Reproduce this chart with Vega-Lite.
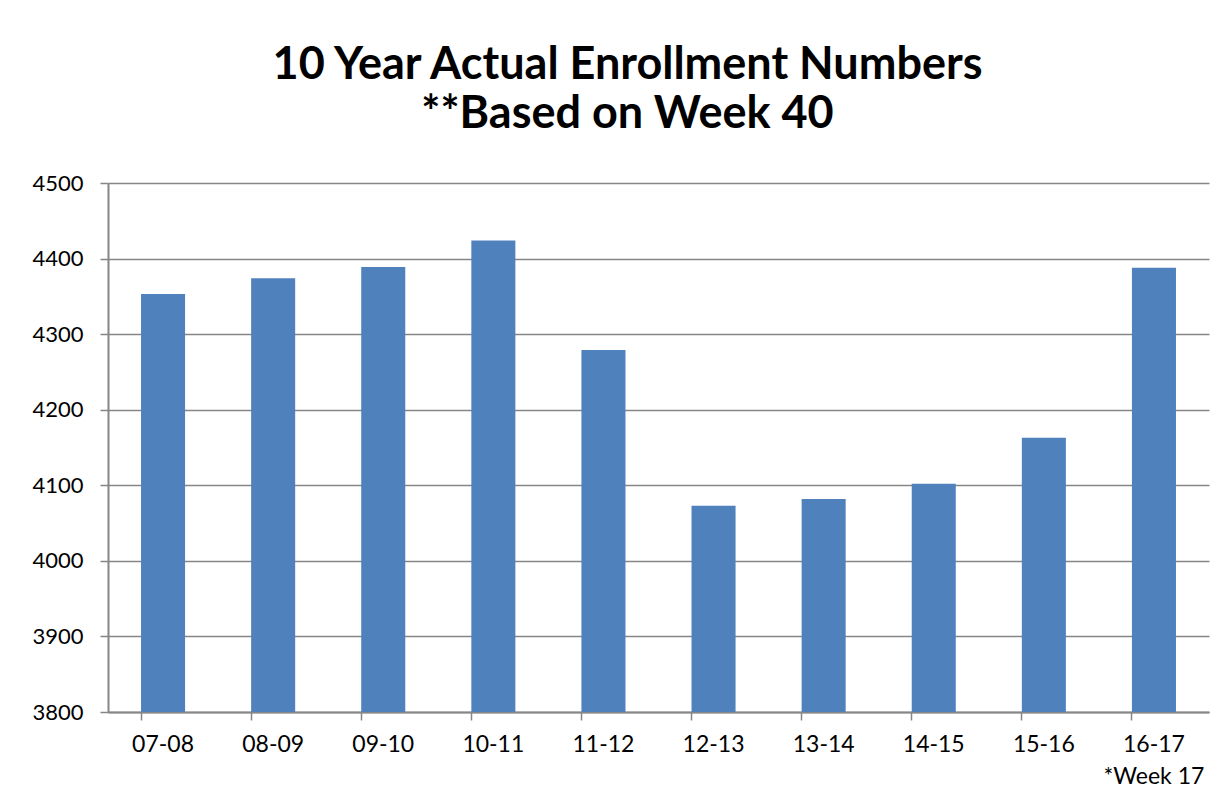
{
  "$schema": "https://vega.github.io/schema/vega-lite/v6.json",
  "autosize": {"type": "none"},
  "padding": {"left": 108, "top": 183, "right": 15, "bottom": 91},
  "width": 1101,
  "height": 529,
  "background": "white",
  "title": {
    "text": ["10 Year Actual Enrollment Numbers", "**Based on Week 40"],
    "font": "Lato",
    "fontSize": 45,
    "fontWeight": "bold",
    "color": "black",
    "anchor": "middle",
    "frame": "group",
    "baseline": "alphabetic",
    "lineHeight": 49,
    "offset": 56,
    "dx": -31,
    "dy": 57
  },
  "data": {
    "values": [
      {"year": "07-08", "enrollment": 4353},
      {"year": "08-09", "enrollment": 4374},
      {"year": "09-10", "enrollment": 4389},
      {"year": "10-11", "enrollment": 4424},
      {"year": "11-12", "enrollment": 4279},
      {"year": "12-13", "enrollment": 4073},
      {"year": "13-14", "enrollment": 4082},
      {"year": "14-15", "enrollment": 4102},
      {"year": "15-16", "enrollment": 4163},
      {"year": "16-17", "enrollment": 4388}
    ]
  },
  "mark": {"type": "bar", "color": "#4F81BD", "clip": true},
  "encoding": {
    "x": {
      "field": "year",
      "type": "nominal",
      "sort": null,
      "scale": {"paddingInner": 0.6, "paddingOuter": 0.3},
      "axis": {
        "title": null,
        "labelAngle": 0,
        "labelFont": "Lato",
        "labelFontSize": 23,
        "labelColor": "black",
        "labelPadding": 13,
        "labelLineHeight": 32,
        "labelExpr": "datum.value == '16-17' ? ['16-17', '*Week 17'] : datum.value",
        "bandPosition": 0,
        "tickSize": 8,
        "tickColor": "#868686",
        "tickWidth": 1.5,
        "domainColor": "#868686",
        "domainWidth": 2,
        "grid": false
      }
    },
    "y": {
      "field": "enrollment",
      "type": "quantitative",
      "scale": {"domain": [3800, 4500], "nice": false, "zero": false},
      "axis": {
        "title": null,
        "values": [3800, 3900, 4000, 4100, 4200, 4300, 4400, 4500],
        "format": "d",
        "labelFont": "Lato",
        "labelFontSize": 22,
        "labelColor": "black",
        "labelPadding": 17,
        "tickSize": 8,
        "tickColor": "#868686",
        "tickWidth": 1.5,
        "domainColor": "#868686",
        "domainWidth": 2,
        "grid": true,
        "gridColor": "#868686",
        "gridWidth": 1.5,
        "gridOpacity": 1
      }
    }
  },
  "config": {
    "view": {"stroke": null}
  }
}
